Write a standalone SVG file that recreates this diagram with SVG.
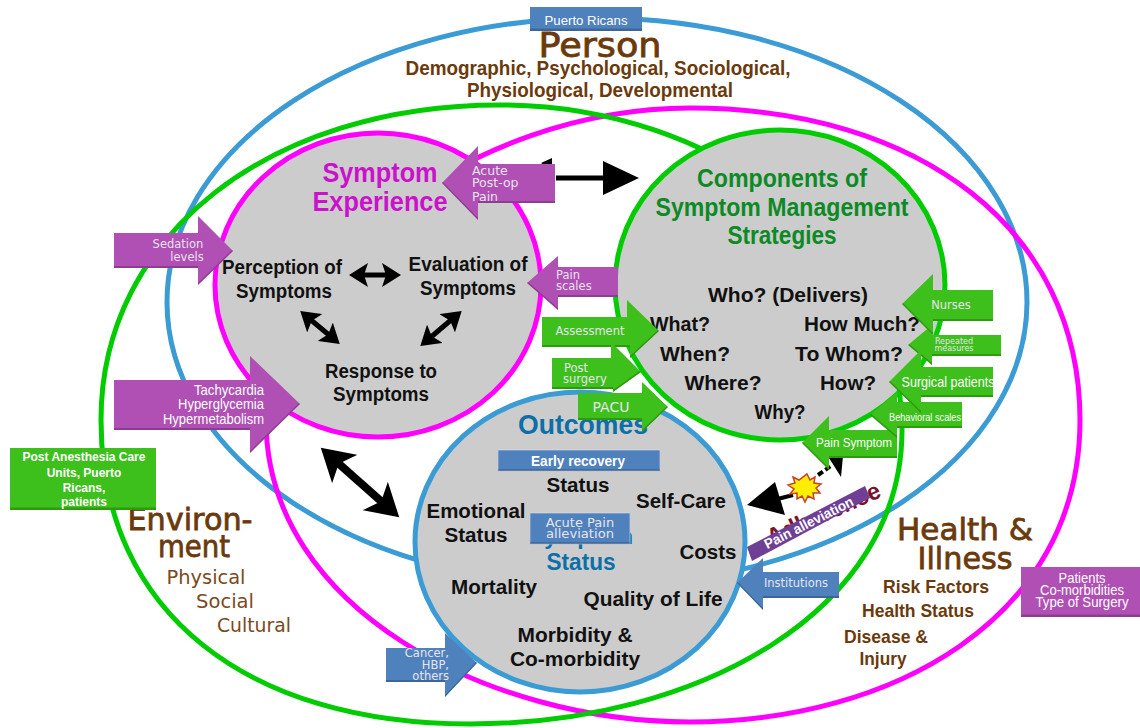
<svg xmlns="http://www.w3.org/2000/svg" width="1140" height="728" viewBox="0 0 1140 728">
<style>
text{font-family:"Liberation Sans",Arial,sans-serif;text-anchor:middle}
.ring{fill:none;stroke-width:5}
.g{fill:#ccc}
.b{font-weight:bold;fill:#111}
.br{font-family:"DejaVu Sans",sans-serif;fill:#6b3a0c;stroke:#6b3a0c;stroke-width:.8}
.brl{font-family:"DejaVu Sans",sans-serif;fill:#7a4a1c}
.brs{font-weight:bold;fill:#6b3a0c}
.pu{fill:#b04fb4;filter:url(#bev)}
.gr{fill:#3cbf1a;filter:url(#bev)}
.bl{fill:#4f81bd;filter:url(#bev)}
.t{font-family:"DejaVu Sans",sans-serif;fill:#e8e4ee}
.w{fill:#fff}
.s{text-anchor:start}
.e{text-anchor:end}
.line{stroke:#000;fill:none}
</style>
<defs>
<filter id="bev" x="-5%" y="-5%" width="110%" height="110%">
<feOffset in="SourceAlpha" dy="-2.5" result="o"/>
<feComposite in="SourceAlpha" in2="o" operator="out" result="edge"/>
<feFlood flood-color="#000" flood-opacity=".38"/>
<feComposite in2="edge" operator="in" result="sh"/>
<feMerge><feMergeNode in="SourceGraphic"/><feMergeNode in="sh"/></feMerge>
</filter>
<marker id="ah" markerUnits="userSpaceOnUse" markerWidth="34" markerHeight="38" refX="9" refY="19" orient="auto-start-reverse"><path d="M0 0L32 19L0 38L8 19Z" fill="#000"/></marker>
<marker id="ahs" markerUnits="userSpaceOnUse" markerWidth="20" markerHeight="24" refX="5" refY="12" orient="auto-start-reverse"><path d="M0 0L19 12L0 24L4 12Z" fill="#000"/></marker>
</defs>
<rect width="1140" height="728" fill="#fff"/>

<g id="rings">
<ellipse id="ring-person" class="ring" cx="597" cy="302" rx="430" ry="284" stroke="#3b9bd4"/>
<path id="ring-health" class="ring" stroke="#ff00ff" d="M690 108C920 108 1080 230 1080 420C1080 620 890 722 690 722C490 722 266 610 266 420C266 270 470 108 690 108Z"/>
<path id="ring-environment" class="ring" stroke="#00cc00" d="M500 105C270 105 101 235 101 420C101 615 250 724 470 724C700 724 902 610 902 430C902 250 720 105 500 105Z"/>
</g>

<g id="symptom-experience">
<ellipse class="g" cx="378" cy="285" rx="163" ry="152" stroke="#ff00ff" stroke-width="5"/>
<text x="380" y="182" font-size="28" font-weight="bold" fill="#cc11cc" textLength="115" lengthAdjust="spacingAndGlyphs">Symptom</text>
<text x="380" y="211" font-size="28" font-weight="bold" fill="#cc11cc" textLength="135" lengthAdjust="spacingAndGlyphs">Experience</text>
<text class="b" font-size="20" x="282" y="274" textLength="120" lengthAdjust="spacingAndGlyphs">Perception of</text>
<text class="b" font-size="20" x="284" y="298" textLength="96" lengthAdjust="spacingAndGlyphs">Symptoms</text>
<text class="b" font-size="20" x="468" y="271" textLength="119" lengthAdjust="spacingAndGlyphs">Evaluation of</text>
<text class="b" font-size="20" x="468" y="295" textLength="96" lengthAdjust="spacingAndGlyphs">Symptoms</text>
<text class="b" font-size="20" x="381" y="378" textLength="112" lengthAdjust="spacingAndGlyphs">Response to</text>
<text class="b" font-size="20" x="381" y="401" textLength="96" lengthAdjust="spacingAndGlyphs">Symptoms</text>
</g>

<g id="components">
<ellipse class="g" cx="780" cy="285" rx="165" ry="155" stroke="#00cc00" stroke-width="5"/>
<text x="782" y="187" font-size="26" font-weight="bold" fill="#0d8a25" textLength="170" lengthAdjust="spacingAndGlyphs">Components of</text>
<text x="782" y="216" font-size="26" font-weight="bold" fill="#0d8a25" textLength="253" lengthAdjust="spacingAndGlyphs">Symptom Management</text>
<text x="782" y="244" font-size="26" font-weight="bold" fill="#0d8a25" textLength="109" lengthAdjust="spacingAndGlyphs">Strategies</text>
<text class="b" font-size="20" x="788" y="302" textLength="160" lengthAdjust="spacingAndGlyphs">Who? (Delivers)</text>
<text class="b" font-size="20" x="680" y="331" textLength="60" lengthAdjust="spacingAndGlyphs">What?</text>
<text class="b" font-size="20" x="862" y="331" textLength="116" lengthAdjust="spacingAndGlyphs">How Much?</text>
<text class="b" font-size="20" x="695" y="361" textLength="70" lengthAdjust="spacingAndGlyphs">When?</text>
<text class="b" font-size="20" x="849" y="361" textLength="108" lengthAdjust="spacingAndGlyphs">To Whom?</text>
<text class="b" font-size="20" x="723" y="390" textLength="77" lengthAdjust="spacingAndGlyphs">Where?</text>
<text class="b" font-size="20" x="848" y="390" textLength="56" lengthAdjust="spacingAndGlyphs">How?</text>
<text class="b" font-size="20" x="780" y="419" textLength="51" lengthAdjust="spacingAndGlyphs">Why?</text>
</g>

<g id="outcomes">
<ellipse class="g" cx="580" cy="542" rx="165" ry="150" stroke="#3b9bd4" stroke-width="5"/>
<text x="583" y="434" font-size="27" font-weight="bold" fill="#0c6fa8" textLength="130" lengthAdjust="spacingAndGlyphs">Outcomes</text>
<text class="b" font-size="20" x="578" y="492" textLength="63" lengthAdjust="spacingAndGlyphs">Status</text>
<text class="b" font-size="20" x="476" y="518" textLength="99" lengthAdjust="spacingAndGlyphs">Emotional</text>
<text class="b" font-size="20" x="476" y="542" textLength="63" lengthAdjust="spacingAndGlyphs">Status</text>
<text x="581" y="544" font-size="22" font-weight="bold" fill="#0c6fa8" textLength="104" lengthAdjust="spacingAndGlyphs">Symptom</text>
<text x="581" y="570" font-size="23" font-weight="bold" fill="#0c6fa8" textLength="69" lengthAdjust="spacingAndGlyphs">Status</text>
<text class="b" font-size="20" x="681" y="508" textLength="90" lengthAdjust="spacingAndGlyphs">Self-Care</text>
<text class="b" font-size="20" x="708" y="559" textLength="57" lengthAdjust="spacingAndGlyphs">Costs</text>
<text class="b" font-size="20" x="494" y="594" textLength="86" lengthAdjust="spacingAndGlyphs">Mortality</text>
<text class="b" font-size="20" x="653" y="606" textLength="139" lengthAdjust="spacingAndGlyphs">Quality of Life</text>
<text class="b" font-size="20" x="575" y="642" textLength="115" lengthAdjust="spacingAndGlyphs">Morbidity &amp;</text>
<text class="b" font-size="20" x="575" y="666" textLength="130" lengthAdjust="spacingAndGlyphs">Co-morbidity</text>
</g>

<g id="person-label">
<text class="br" x="600" y="57" font-size="33" textLength="123" lengthAdjust="spacingAndGlyphs">Person</text>
<text class="brs" x="598" y="75" font-size="20.5" textLength="385" lengthAdjust="spacingAndGlyphs">Demographic, Psychological, Sociological,</text>
<text class="brs" x="600" y="97" font-size="20.5" textLength="266" lengthAdjust="spacingAndGlyphs">Physiological, Developmental</text>
</g>
<g id="environment-label">
<text class="br" x="190" y="530" font-size="30" textLength="125" lengthAdjust="spacingAndGlyphs">Environ-</text>
<text class="br" x="194" y="557" font-size="30" textLength="72" lengthAdjust="spacingAndGlyphs">ment</text>
<text class="brl" x="206" y="584" font-size="19.5" textLength="79" lengthAdjust="spacingAndGlyphs">Physical</text>
<text class="brl" x="225" y="608" font-size="19.5" textLength="58" lengthAdjust="spacingAndGlyphs">Social</text>
<text class="brl" x="254" y="632" font-size="19.5" textLength="74" lengthAdjust="spacingAndGlyphs">Cultural</text>
</g>
<g id="health-label">
<text class="br" x="965" y="540" font-size="30" textLength="136" lengthAdjust="spacingAndGlyphs">Health &amp;</text>
<text class="br" x="965" y="569" font-size="30" textLength="95" lengthAdjust="spacingAndGlyphs">Illness</text>
<text class="brs" x="936" y="593" font-size="19" textLength="106" lengthAdjust="spacingAndGlyphs">Risk Factors</text>
<text class="brs" x="918" y="617" font-size="19" textLength="112" lengthAdjust="spacingAndGlyphs">Health Status</text>
<text class="brs" x="886" y="643" font-size="19" textLength="84" lengthAdjust="spacingAndGlyphs">Disease &amp;</text>
<text class="brs" x="883" y="665" font-size="19" textLength="47" lengthAdjust="spacingAndGlyphs">Injury</text>
</g>

<g id="connectors">
<path class="line" stroke-width="5" d="M556 178H610"/>
<path d="M541 163L552 158V170Z" fill="#000"/>
<path d="M603 161L639 178L603 195Z" fill="#000"/>
<path class="line" stroke-width="5" d="M363 275H387" marker-start="url(#ahs)" marker-end="url(#ahs)"/>
<path class="line" stroke-width="5" d="M311 320L329 335" marker-start="url(#ahs)" marker-end="url(#ahs)"/>
<path class="line" stroke-width="5" d="M451 320L431 337" marker-start="url(#ahs)" marker-end="url(#ahs)"/>
<path class="line" stroke-width="8" d="M338 463L382 502" marker-start="url(#ah)" marker-end="url(#ah)"/>
<path class="line" stroke-width="4" d="M793 495L770 501"/>
<path d="M747 505L775 482L785 515Z" fill="#000"/>
<path class="line" stroke-width="4" d="M818 475L832 465" stroke-dasharray="6 3"/>
<path d="M829 458L843 456L841 477Z" fill="#000"/>
<path id="burst" d="M807 474l3 6 5-3-1 6 7 1-5 4 4 5-7 0 1 6-6-3-3 6-3-6-5 3 0-6-7 1 4-5-6-4 7-2-2-6 6 3z" fill="#ffee00" stroke="#c8402a" stroke-width="1.5"/>
<text class="s" x="771" y="546" font-size="24" font-weight="bold" fill="#7c1226" transform="rotate(-24 771 546)" textLength="122" lengthAdjust="spacingAndGlyphs">Adherence</text>
</g>

<g id="pain-alleviation">
<path d="M747 547L865 486L870 498L752 561Z" fill="#6f3f95"/>
<text x="811" y="527" font-size="14" font-weight="bold" fill="#fff" transform="rotate(-27 811 527)" textLength="98" lengthAdjust="spacingAndGlyphs">Pain alleviation</text>
</g>

<g id="puerto-ricans"><rect class="bl" x="530" y="7" width="112" height="24"/><text class="w" x="586" y="25" font-size="13.5" textLength="83" lengthAdjust="spacingAndGlyphs">Puerto Ricans</text></g>
<g id="early-recovery"><rect class="bl" x="498" y="450" width="162" height="21" stroke="#dde" stroke-width=".6"/><text x="578" y="466" font-size="14" font-weight="bold" fill="#fff" textLength="94" lengthAdjust="spacingAndGlyphs">Early recovery</text></g>
<g id="acute-pain-alleviation"><rect class="bl" x="530" y="513" width="100" height="31" stroke="#dde" stroke-width=".6"/><text class="t" x="580" y="527" font-size="13">Acute Pain</text><text class="t" x="580" y="538" font-size="13" textLength="68" lengthAdjust="spacingAndGlyphs">alleviation</text></g>

<g id="acute-postop"><path class="pu" d="M442 183L478 146V164H555V203H478V220Z"/><text class="t s" x="472" y="175" font-size="12.5">Acute</text><text class="t s" x="472" y="187" font-size="12.5">Post-op</text><text class="t s" x="472" y="201" font-size="12.5">Pain</text></g>
<g id="pain-scales"><path class="pu" d="M527 283L558 256V267H618V297H558V310Z"/><text class="t s" x="556" y="279" font-size="11.5">Pain</text><text class="t s" x="556" y="290" font-size="11.5">scales</text></g>
<g id="sedation"><path class="pu" d="M114 233H198V216L233 251L198 285V268H114Z"/><text class="t" x="178" y="248" font-size="11.5">Sedation</text><text class="t" x="187" y="261" font-size="11.5">levels</text></g>
<g id="tachycardia"><path class="pu" d="M114 380H250V356L300 404L250 453V430H114Z"/><text class="w e" x="264" y="395" font-size="14" textLength="70" lengthAdjust="spacingAndGlyphs">Tachycardia</text><text class="w e" x="264" y="409" font-size="14" textLength="86" lengthAdjust="spacingAndGlyphs">Hyperglycemia</text><text class="w e" x="264" y="424" font-size="14" textLength="101" lengthAdjust="spacingAndGlyphs">Hypermetabolism</text></g>
<g id="assessment"><path class="gr" d="M542 317H627V300L659 331L630 358V347H542Z"/><text class="t" x="590" y="335" font-size="11.5">Assessment</text></g>
<g id="post-surgery"><path class="gr" d="M552 358H611V342L641 372L613 392V389H552Z"/><text class="t s" x="564" y="372" font-size="11.5">Post</text><text class="t s" x="563" y="383" font-size="11.5">surgery</text></g>
<g id="pacu"><path class="gr" d="M578 393H642V382L668 407L642 432V420H578Z"/><text class="t" x="611" y="412" font-size="14">PACU</text></g>

<g id="pain-symptom"><path class="gr" d="M802 443L829 416V430H897V458H829V470Z"/><text class="w" x="854" y="447" font-size="12.5" textLength="76" lengthAdjust="spacingAndGlyphs">Pain Symptom</text></g>
<g id="behavioral-scales"><path class="gr" d="M870 415L897 392V402H962V428H897V438Z"/><text class="w" x="925" y="421" font-size="10" textLength="72" lengthAdjust="spacingAndGlyphs">Behavioral scales</text></g>
<g id="repeated-measures"><path class="gr" d="M908 345L932 325V335H1001V356H932V365Z"/><text class="t" x="954" y="344" font-size="8">Repeated</text><text class="t" x="954" y="351" font-size="8">measures</text></g>
<g id="surgical-patients"><path class="gr" d="M889 382L921 350V367H993V397H921V413Z"/><text class="w" x="948" y="387" font-size="14.5" textLength="93" lengthAdjust="spacingAndGlyphs">Surgical patients</text></g>
<g id="nurses"><path class="gr" d="M902 304L933 274V290H993V321H933V335Z"/><text class="t" x="951" y="309" font-size="11.5">Nurses</text></g>

<g id="institutions"><path class="bl" d="M737 583L763 558V572H839V598H763V610Z"/><text class="t" x="796" y="587" font-size="11.5">Institutions</text></g>
<g id="cancer"><path class="bl" d="M386 648H445V633L477 663L445 697V682H386Z"/><text class="t e" x="449" y="657" font-size="11.5">Cancer,</text><text class="t e" x="449" y="669" font-size="11.5">HBP,</text><text class="t e" x="449" y="680" font-size="11.5">others</text></g>

<g id="post-anesthesia"><rect class="gr" x="10" y="448" width="146" height="62"/><text x="84" y="461" font-size="12" font-weight="bold" fill="#fff">Post Anesthesia Care</text><text x="84" y="477" font-size="12" font-weight="bold" fill="#fff">Units,  Puerto</text><text x="84" y="492" font-size="12" font-weight="bold" fill="#fff">Ricans,</text><text x="84" y="506" font-size="12" font-weight="bold" fill="#fff">patients</text></g>
<g id="patients"><rect class="pu" x="1021" y="567" width="119" height="50"/><text class="w" x="1082" y="583" font-size="14" textLength="47" lengthAdjust="spacingAndGlyphs">Patients</text><text class="w" x="1082" y="595" font-size="14" textLength="84" lengthAdjust="spacingAndGlyphs">Co-morbidities</text><text class="w" x="1082" y="607" font-size="14" textLength="93" lengthAdjust="spacingAndGlyphs">Type of Surgery</text></g>
</svg>
